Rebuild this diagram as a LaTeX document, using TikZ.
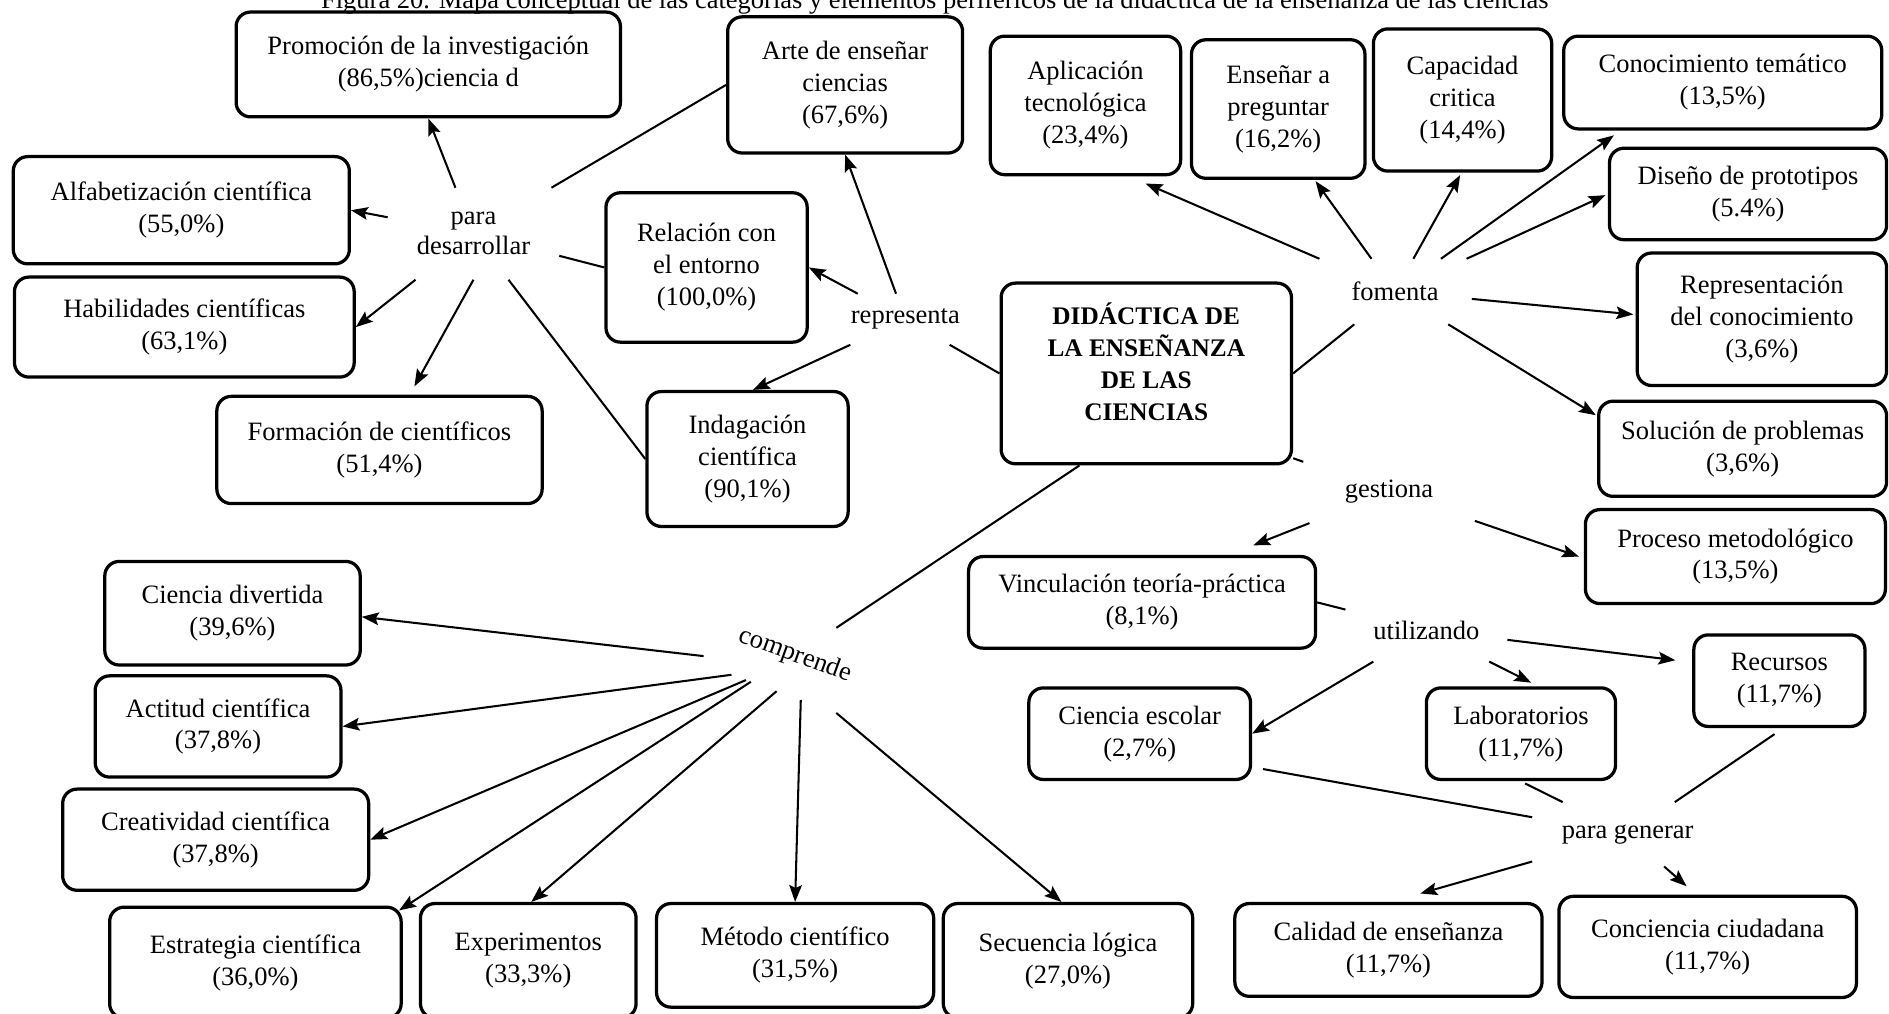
\documentclass[tikz,border=0pt]{standalone}
\usepackage{fontspec}
\setmainfont{Liberation Serif}
\usetikzlibrary{arrows.meta,calc}

\newcommand{\mapfont}{\fontsize{22pt}{26.5pt}\selectfont}

\tikzset{
  concept/.style={draw, line width=2.7pt, rounded corners=12pt, align=center,
    inner sep=0pt, font=\mapfont, text=black},
  core/.style={concept, font=\fontsize{21pt}{26.5pt}\selectfont\bfseries},
  link/.style={inner sep=0pt, align=center, font=\mapfont},
  ln/.style={line width=1.7pt},
  arr/.style={ln, -{Stealth[length=14pt,width=10.5pt,inset=2.5pt]}},
}

\begin{document}
\begin{tikzpicture}[x=1pt,y=-1pt]
\useasboundingbox (0,0) rectangle (1568,841);
\clip (0,0) rectangle (1568,841);

% caption
\node[anchor=base, inner sep=0pt, font=\fontsize{22pt}{26pt}\selectfont] (title) at (776,7)
  {Figura 20. Mapa conceptual de las categorías y elementos periféricos de la didáctica de la enseñanza de las ciencias};

% central concept
\node[core, minimum width=241pt, minimum height=150pt] (didac) at (951.5,310)
  {\raisebox{6pt}[\height][\depth]{\begin{tabular}{@{}c@{}}DIDÁCTICA DE\\LA ENSEÑANZA\\DE LAS\\CIENCIAS\end{tabular}}};

% upper left group
\node[concept, minimum width=319pt, minimum height=87pt] (promo) at (355.5,53.5) {Promoción de la investigación\\(86,5\%)ciencia d};
\node[concept, minimum width=195pt, minimum height=113pt] (arte) at (701.5,70.5) {Arte de enseñar\\ciencias\\(67,6\%)};
\node[concept, minimum width=279pt, minimum height=89pt] (alfab) at (150.5,174.5) {Alfabetización científica\\(55,0\%)};
\node[concept, minimum width=282pt, minimum height=83pt] (habil) at (153,271.5) {Habilidades científicas\\(63,1\%)};
\node[concept, minimum width=270pt, minimum height=89pt] (forma) at (315,373.5) {Formación de científicos\\(51,4\%)};
\node[concept, minimum width=167pt, minimum height=124pt] (relac) at (586.5,222) {Relación con\\el entorno\\(100,0\%)};
\node[concept, minimum width=167pt, minimum height=112pt] (indag) at (620.5,381) {Indagación\\científica\\(90,1\%)};

% upper right group
\node[concept, minimum width=158pt, minimum height=115pt] (aplic) at (901,87.5) {Aplicación\\tecnológica\\(23,4\%)};
\node[concept, minimum width=144pt, minimum height=115pt] (ensen) at (1061,90.5) {Enseñar a\\preguntar\\(16,2\%)};
\node[concept, minimum width=148pt, minimum height=118pt] (capac) at (1214,83) {Capacidad\\critica\\(14,4\%)};
\node[concept, minimum width=264pt, minimum height=77pt] (conoc) at (1430,68.5) {Conocimiento temático\\(13,5\%)};
\node[concept, minimum width=230pt, minimum height=76pt] (disen) at (1451,161) {Diseño de prototipos\\(5.4\%)};
\node[concept, minimum width=207pt, minimum height=110pt] (repre) at (1462.5,265) {Representación\\del conocimiento\\(3,6\%)};
\node[concept, minimum width=239pt, minimum height=79pt] (soluc) at (1446.5,372.5) {Solución de problemas\\(3,6\%)};
\node[concept, minimum width=249pt, minimum height=78pt] (proce) at (1440.5,462) {Proceso metodológico\\(13,5\%)};

% lower right group
\node[concept, minimum width=288pt, minimum height=76pt] (vincu) at (948,500) {Vinculación teoría-práctica\\(8,1\%)};
\node[concept, minimum width=184pt, minimum height=76pt] (ciesc) at (946,609) {Ciencia escolar\\(2,7\%)};
\node[concept, minimum width=157pt, minimum height=76pt] (labor) at (1262.5,609) {Laboratorios\\(11,7\%)};
\node[concept, minimum width=142pt, minimum height=76pt] (recur) at (1477,565) {Recursos\\(11,7\%)};
\node[concept, minimum width=255pt, minimum height=77pt] (calid) at (1152.5,788.5) {Calidad de enseñanza\\(11,7\%)};
\node[concept, minimum width=247pt, minimum height=84pt] (conci) at (1417.5,786) {Conciencia ciudadana\\(11,7\%)};

% lower left group
\node[concept, minimum width=212pt, minimum height=86pt] (cdiv) at (193,509) {Ciencia divertida\\(39,6\%)};
\node[concept, minimum width=204pt, minimum height=84pt] (acti) at (181,603) {Actitud científica\\(37,8\%)};
\node[concept, minimum width=254pt, minimum height=84pt] (crea) at (179,697) {Creatividad científica\\(37,8\%)};
\node[concept, minimum width=242pt, minimum height=92pt] (estr) at (212,799) {Estrategia científica\\(36,0\%)};
\node[concept, minimum width=179pt, minimum height=95pt] (expe) at (438.5,797.5) {Experimentos\\(33,3\%)};
\node[concept, minimum width=230pt, minimum height=86pt] (meto) at (660,793) {Método científico\\(31,5\%)};
\node[concept, minimum width=207pt, minimum height=95pt] (secu) at (886.5,797.5) {Secuencia lógica\\(27,0\%)};

% linking words
\node[link, minimum width=142pt, minimum height=76pt, font=\fontsize{22pt}{25pt}\selectfont] (pd) at (393,194) {para\\desarrollar};
\node[link, minimum width=127pt, minimum height=42pt] (repr) at (751.5,265) {representa};
\node[link, minimum width=127pt, minimum height=54pt] (fom) at (1158,242) {fomenta};
\node[link, minimum width=142pt, minimum height=52pt] (gest) at (1153,408) {gestiona};
\node[link, minimum width=134pt, minimum height=52pt] (util) at (1184,523) {utilizando};
\node[link, minimum width=158pt, minimum height=53pt] (pgen) at (1351,692.5) {para generar};
\node[link, minimum width=142pt, minimum height=66pt, rotate=-20] (comp) at (660,544) {comprende};

% representa
\draw[ln] (repr) -- (didac.west);
\draw[arr] (repr) -- (arte.south);
\draw[arr] (repr) -- (relac.east);
\draw[arr] (repr) -- ([shift={(4.5,0)}]indag.north);

% para desarrollar
\draw[ln] (arte.west) -- (pd);
\draw[ln] (relac.west) -- (pd);
\draw[ln] (indag.west) -- (pd);
\draw[arr] (pd) -- (promo.south);
\draw[arr] (pd) -- (alfab.east);
\draw[arr] (pd) -- (habil.east);
\draw[arr] (pd.south) -- ([shift={(29,-7)}]forma.north);

% fomenta
\draw[ln] (didac.east) -- (fom);
\draw[arr] (fom) -- ([shift={(50,6)}]aplic.south);
\draw[arr] (fom) -- ([shift={(31,1)}]ensen.south);
\draw[arr] (fom) -- ([shift={(-2,2)}]capac.south);
\draw[arr] (fom) -- ([shift={(43,4)}]conoc.south west);
\draw[arr] (fom) -- ([shift={(-2,1)}]disen.west);
\draw[arr] (fom) -- ([shift={(-2,-4)}]repre.west);
\draw[arr] (fom) -- ([shift={(-1,13)}]soluc.north west);

% gestiona
\draw[ln] (didac.-30) -- (gest);
\draw[arr] (gest) -- ([shift={(-53,-8)}]vincu.north east);
\draw[arr] (gest) -- ([shift={(-4,0)}]proce.west);

% utilizando
\draw[ln] (vincu.east) -- (util);
\draw[arr] (util) -- (ciesc.east);
\draw[arr] (util) -- ([shift={(8.5,-3)}]labor.north);
\draw[arr] (util) -- ([shift={(-14,-17)}]recur.west);

% para generar
\draw[ln] ([shift={(9,-10)}]ciesc.south east) -- (pgen);
\draw[ln] ([shift={(3.5,2)}]labor.south) -- (pgen);
\draw[ln] ([shift={(-4,5)}]recur.south) -- (pgen);
\draw[arr] (pgen) -- ([shift={(26.5,-7)}]calid.north);
\draw[arr] (pgen) -- ([shift={(-17.5,-7)}]conci.north);

% comprende
\draw[ln] (didac.234) -- (comp);
\draw[arr] ($(comp.south west)!0.1!(comp.north west)$) -- ([shift={(0,3)}]cdiv.east);
\draw[arr] ($(comp.south west)!0.19!(comp.south east)$) -- (acti.east);
\draw[arr] ($(comp.south west)!0.28!(comp.south east)$) -- (crea.east);
\draw[arr] ($(comp.south west)!0.31!(comp.south east)$) -- ([shift={(-3,4)}]estr.north east);
\draw[arr] ($(comp.south west)!0.47!(comp.south east)$) -- ([shift={(2.5,0)}]expe.north);
\draw[arr] ($(comp.south west)!0.62!(comp.south east)$) -- (meto.north);
\draw[arr] ($(comp.south west)!0.84!(comp.south east)$) -- ([shift={(-5.5,0)}]secu.north);
\end{tikzpicture}
\end{document}
